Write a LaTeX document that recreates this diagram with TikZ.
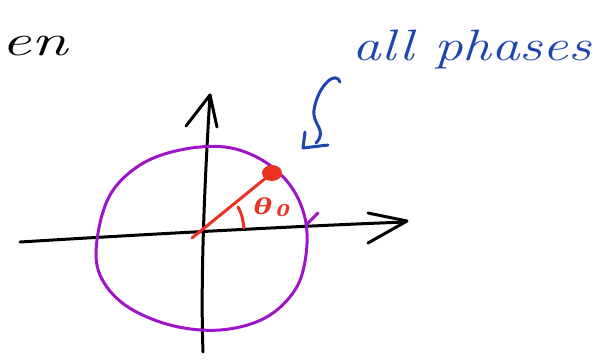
\documentclass[tikz,border=0pt]{standalone}
\usepackage{tikz}
\usepackage{fontspec}
\newfontfamily\greekfont{Liberation Serif}
\definecolor{penblue}{RGB}{30,70,175}
\definecolor{penpurple}{RGB}{160,20,200}
\definecolor{penred}{RGB}{235,50,35}
\tikzset{ink/.style={line width=3pt,line cap=round,line join=round}}
\begin{document}
\begin{tikzpicture}[x=1pt,y=-1pt]
\useasboundingbox (0,0) rectangle (606,360);
\begin{scope}
\clip (0,0) rectangle (606,360);
\node[anchor=base east,inner sep=0pt,xscale=1.5,font=\fontsize{44}{48}\selectfont\itshape] (word) at (68,55) {en};
\end{scope}
\node[anchor=base,inner sep=0pt,xscale=1.3,text=penblue,font=\fontsize{44}{48}\selectfont\itshape] (phases) at (472,60) {all phases};
% axes
\draw[ink] (20,242) .. controls (150,234) and (300,226) .. (405,222);
\draw[ink] (368,243) -- (407,221) -- (368,213);
\draw[ink] (203,352) .. controls (200,270) and (206,160) .. (210,95);
\draw[ink] (186,126) -- (210,95) -- (217,127);
% unit circle
\draw[ink,penpurple] plot[smooth cycle,tension=0.6] coordinates {(97,240) (110,195) (140,165) (180,150) (225,147) (262,160) (290,185) (305,218) (306,255) (295,290) (265,318) (220,330) (170,325) (125,305) (100,275)};
\draw[ink,penpurple] (306,225) -- (318,213);
% phase
\draw[ink,penred] (192,238) -- (272,173);
\fill[penred] (272,173) ellipse (10 and 8);
\draw[ink,penred] (238,207) .. controls (242,215) .. (244,228);
\node[anchor=base west,inner sep=0pt,text=penred,xscale=1.5,font=\greekfont\bfseries\itshape\fontsize{24}{26}\selectfont] (theta) at (253,214) {θ\kern3pt\raisebox{-2pt}{\fontsize{18}{20}\selectfont 0}};
% pointer
\draw[ink,penblue] (340,82) .. controls (336,70) and (318,85) .. (314,110) .. controls (312,125) and (328,130) .. (316,143);
\draw[ink,penblue] (305,132) -- (303,148) -- (328,145);
\end{tikzpicture}
\end{document}
